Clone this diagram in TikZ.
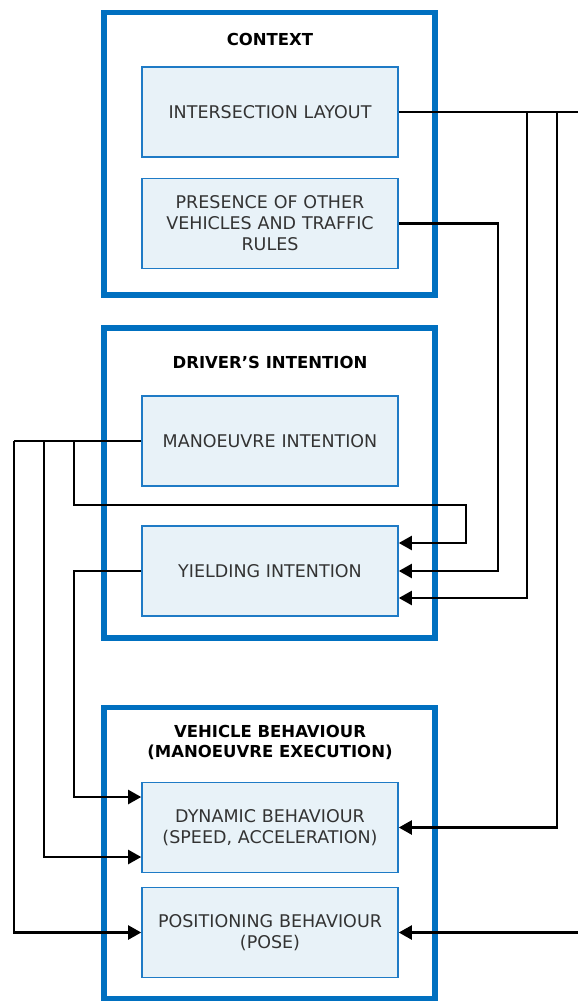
\documentclass[tikz,border=0pt]{standalone}
\usepackage{fontspec}
\setmainfont{DejaVu Sans}
\usetikzlibrary{arrows.meta}
\definecolor{outerblue}{HTML}{0070C0}
\definecolor{innerfill}{HTML}{E8F2F8}
\definecolor{innerdraw}{HTML}{1F7BC6}
\definecolor{txt}{HTML}{333333}
\begin{document}
\begin{tikzpicture}[x=1pt,y=-1pt,
  outerbox/.style={draw=outerblue,line width=5.5pt,fill=white,inner sep=0pt,outer sep=0pt,anchor=north west,minimum width=331pt},
  innerbox/.style={draw=innerdraw,line width=1.6pt,fill=innerfill,minimum width=256pt,minimum height=90pt,text width=250pt,align=center,font=\fontsize{17.5}{21}\selectfont,text=txt,inner sep=0pt},
  titlelbl/.style={font=\fontsize{16.5}{20}\selectfont\bfseries,align=center,inner sep=0pt},
  conn/.style={line width=2.2pt,black},
  arr/.style={conn,-{Triangle[length=13pt,width=14pt]}}]
\useasboundingbox (0,0) rectangle (578,1001);
% outer boxes
\node[outerbox,minimum height=282.5pt] (ctx) at (104,12.5) {};
\node[outerbox,minimum height=310pt] (drv) at (104,328) {};
\node[outerbox,minimum height=291pt] (veh) at (104,707.5) {};
% titles
\node[titlelbl] (tctx) at (270,39) {CONTEXT};
\node[titlelbl] (tdrv) at (270,362) {DRIVER’S INTENTION};
\node[titlelbl] (tveh) at (270,742) {VEHICLE BEHAVIOUR\\(MANOEUVRE EXECUTION)};
% inner boxes
\node[innerbox] (il) at (270,112) {INTERSECTION LAYOUT};
\node[innerbox] (pr) at (270,223.5) {PRESENCE OF OTHER\\VEHICLES AND TRAFFIC\\RULES};
\node[innerbox] (mi) at (270,441) {MANOEUVRE INTENTION};
\node[innerbox] (yi) at (270,571) {YIELDING INTENTION};
\node[innerbox] (dy) at (270,827.5) {DYNAMIC BEHAVIOUR\\(SPEED, ACCELERATION)};
\node[innerbox] (po) at (270,932.5) {POSITIONING BEHAVIOUR\\(POSE)};
% free ends and junctions
\coordinate (outR1) at (578,112);
\coordinate (outR2) at (578,932.5);
\coordinate (j1) at (527,112);
\coordinate (j2) at (557,112);
\coordinate (m1) at (14,441);
\coordinate (m2) at (44,441);
\coordinate (m3) at (74,441);
% connectors
\draw[conn] (il.east) -- (outR1);
\draw[arr] (j1) |- ([yshift=-27pt]yi.east);
\draw[arr] (j2) |- (dy.east);
\draw[arr] (outR2) -- (po.east);
\draw[arr] (pr.east) -- (498,223.5) |- (yi.east);
\draw[conn] (mi.west) -- (m1);
\draw[arr] (m3) -- (74,505) -- (466,505) |- ([yshift=28pt]yi.east);
\draw[arr] (m1) |- (po.west);
\draw[arr] (m2) |- ([yshift=-29.5pt]dy.west);
\draw[arr] (yi.west) -- (74,571) |- ([yshift=30.5pt]dy.west);
\end{tikzpicture}
\end{document}
